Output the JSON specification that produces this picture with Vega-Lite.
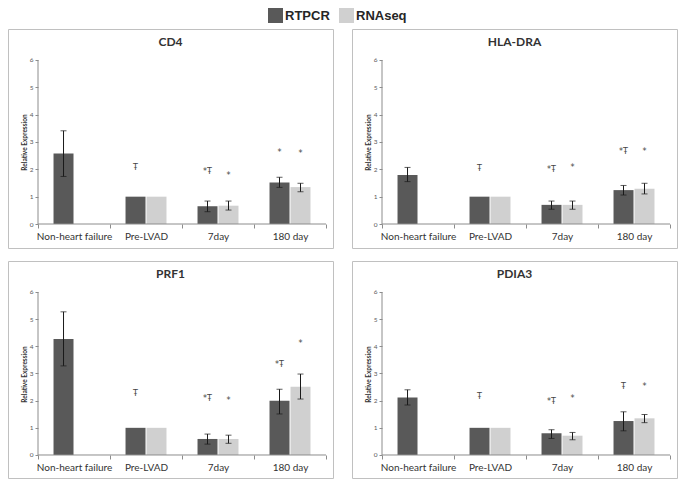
{
  "$schema": "https://vega.github.io/schema/vega-lite/v6.json",
  "padding": {"left": 7, "top": 8, "right": 4, "bottom": 4},
  "background": "white",
  "datasets": {
    "d": [
      {"gene": "CD4", "group": "Non-heart failure", "series": "RTPCR", "value": 2.58, "lo": 1.74, "hi": 3.41, "ann": null, "ann_y": null},
      {"gene": "CD4", "group": "Pre-LVAD", "series": "RTPCR", "value": 1.0, "lo": null, "hi": null, "ann": "Ŧ", "ann_y": 2.04},
      {"gene": "CD4", "group": "Pre-LVAD", "series": "RNAseq", "value": 1.0, "lo": null, "hi": null, "ann": null, "ann_y": null},
      {"gene": "CD4", "group": "7day", "series": "RTPCR", "value": 0.65, "lo": 0.45, "hi": 0.84, "ann": "*Ŧ", "ann_y": 1.9},
      {"gene": "CD4", "group": "7day", "series": "RNAseq", "value": 0.67, "lo": 0.51, "hi": 0.84, "ann": "*", "ann_y": 1.76},
      {"gene": "CD4", "group": "180 day", "series": "RTPCR", "value": 1.52, "lo": 1.34, "hi": 1.71, "ann": "*", "ann_y": 2.61},
      {"gene": "CD4", "group": "180 day", "series": "RNAseq", "value": 1.35, "lo": 1.18, "hi": 1.49, "ann": "*", "ann_y": 2.56},

      {"gene": "HLA-DRA", "group": "Non-heart failure", "series": "RTPCR", "value": 1.79, "lo": 1.55, "hi": 2.07, "ann": null, "ann_y": null},
      {"gene": "HLA-DRA", "group": "Pre-LVAD", "series": "RTPCR", "value": 1.0, "lo": null, "hi": null, "ann": "Ŧ", "ann_y": 2.02},
      {"gene": "HLA-DRA", "group": "Pre-LVAD", "series": "RNAseq", "value": 1.0, "lo": null, "hi": null, "ann": null, "ann_y": null},
      {"gene": "HLA-DRA", "group": "7day", "series": "RTPCR", "value": 0.70, "lo": 0.54, "hi": 0.84, "ann": "*Ŧ", "ann_y": 1.98},
      {"gene": "HLA-DRA", "group": "7day", "series": "RNAseq", "value": 0.70, "lo": 0.54, "hi": 0.84, "ann": "*", "ann_y": 2.04},
      {"gene": "HLA-DRA", "group": "180 day", "series": "RTPCR", "value": 1.24, "lo": 1.06, "hi": 1.41, "ann": "*Ŧ", "ann_y": 2.65},
      {"gene": "HLA-DRA", "group": "180 day", "series": "RNAseq", "value": 1.29, "lo": 1.10, "hi": 1.49, "ann": "*", "ann_y": 2.62},

      {"gene": "PRF1", "group": "Non-heart failure", "series": "RTPCR", "value": 4.27, "lo": 3.28, "hi": 5.27, "ann": null, "ann_y": null},
      {"gene": "PRF1", "group": "Pre-LVAD", "series": "RTPCR", "value": 1.0, "lo": null, "hi": null, "ann": "Ŧ", "ann_y": 2.23},
      {"gene": "PRF1", "group": "Pre-LVAD", "series": "RNAseq", "value": 1.0, "lo": null, "hi": null, "ann": null, "ann_y": null},
      {"gene": "PRF1", "group": "7day", "series": "RTPCR", "value": 0.59, "lo": 0.40, "hi": 0.77, "ann": "*Ŧ", "ann_y": 2.06},
      {"gene": "PRF1", "group": "7day", "series": "RNAseq", "value": 0.59, "lo": 0.43, "hi": 0.73, "ann": "*", "ann_y": 2.0},
      {"gene": "PRF1", "group": "180 day", "series": "RTPCR", "value": 2.0, "lo": 1.51, "hi": 2.42, "ann": "*Ŧ", "ann_y": 3.31},
      {"gene": "PRF1", "group": "180 day", "series": "RNAseq", "value": 2.51, "lo": 2.06, "hi": 2.98, "ann": "*", "ann_y": 4.07},

      {"gene": "PDIA3", "group": "Non-heart failure", "series": "RTPCR", "value": 2.12, "lo": 1.84, "hi": 2.4, "ann": null, "ann_y": null},
      {"gene": "PDIA3", "group": "Pre-LVAD", "series": "RTPCR", "value": 1.0, "lo": null, "hi": null, "ann": "Ŧ", "ann_y": 2.12},
      {"gene": "PDIA3", "group": "Pre-LVAD", "series": "RNAseq", "value": 1.0, "lo": null, "hi": null, "ann": null, "ann_y": null},
      {"gene": "PDIA3", "group": "7day", "series": "RTPCR", "value": 0.80, "lo": 0.61, "hi": 0.93, "ann": "*Ŧ", "ann_y": 1.96},
      {"gene": "PDIA3", "group": "7day", "series": "RNAseq", "value": 0.71, "lo": 0.56, "hi": 0.83, "ann": "*", "ann_y": 2.06},
      {"gene": "PDIA3", "group": "180 day", "series": "RTPCR", "value": 1.25, "lo": 0.89, "hi": 1.59, "ann": "Ŧ", "ann_y": 2.51},
      {"gene": "PDIA3", "group": "180 day", "series": "RNAseq", "value": 1.35, "lo": 1.19, "hi": 1.49, "ann": "*", "ann_y": 2.49}
    ]
  },
  "data": {"name": "d"},
  "config": {
    "view": {"stroke": "#c0c0c0", "strokeWidth": 1},
    "font": "Lato",
    "axis": {"grid": false},
    "axisY": {"offset": -30, "domain": false, "tickSize": 3, "tickColor": "#8c8c8c", "labelFontSize": 6.5, "labelColor": "#595959", "labelPadding": 2, "labelOverlap": false, "titleFontSize": 6.5, "titleFontWeight": "bold", "titleColor": "#333333", "titlePadding": 2, "titleY": 113},
    "axisX": {"domain": false, "tickBand": "extent", "tickSize": 4, "tickColor": "#8c8c8c", "labelAngle": 0, "labelFontSize": 10, "labelColor": "#333333", "labelPadding": 3, "labelFont": "Lato"},
    "title": {"fontSize": 12, "font": "Lato", "fontWeight": "bold", "color": "#333333", "anchor": "middle", "offset": -20}
  },
  "columns": 2,
  "spacing": {"row": 11, "column": 17},
  "resolve": {"scale": {"color": "shared", "x": "independent", "y": "independent", "xOffset": "independent"}, "legend": {"color": "shared"}},
  "concat": [
    {
      "width": 325, "height": 219,
      "title": {"text": "CD4"},
      "transform": [{"filter": "datum.gene === 'CD4'"}],
      "encoding": {"x": {"field": "group", "type": "nominal", "title": null, "scale": {"domain": ["Non-heart failure", "Pre-LVAD", "7day", "180 day"], "paddingInner": 0, "paddingOuter": 0.257, "align": 0.811}, "axis": {"offset": -24}}},
      "layer": [
        {"mark": {"type": "bar"}, "encoding": {
          "xOffset": {"field": "series", "type": "nominal", "scale": {"domain": ["RTPCR", "RNAseq"], "paddingInner": 0.048, "paddingOuter": 0.739}},
          "y": {"field": "value", "type": "quantitative", "title": "Relative Expression", "scale": {"domain": [-0.878, 7.134], "nice": false, "zero": false}, "axis": {"values": [0, 1, 2, 3, 4, 5, 6]}},
          "y2": {"datum": 0},
          "color": {"field": "series", "type": "nominal", "scale": {"domain": ["RTPCR", "RNAseq"], "range": ["#595959", "#d0d0d0"]}, "legend": {"orient": "none", "legendX": 260, "legendY": -21, "direction": "horizontal", "title": null, "symbolType": "square", "symbolSize": 225, "symbolStrokeWidth": 0, "symbolOpacity": 1, "labelFontSize": 13, "labelFontWeight": "bold", "labelFont": "Liberation Sans", "labelColor": "#262626", "labelOffset": 2, "columnPadding": 9, "padding": 0}}
        }},
        {"mark": {"type": "rule", "color": "#1a1a1a", "strokeWidth": 1}, "encoding": {
          "xOffset": {"field": "series", "type": "nominal", "scale": {"domain": ["RTPCR", "RNAseq"], "paddingInner": 0.048, "paddingOuter": 0.739}},
          "y": {"field": "lo", "type": "quantitative", "title": "Relative Expression", "axis": {"values": [0, 1, 2, 3, 4, 5, 6]}}, "y2": {"field": "hi"}}},
        {"mark": {"type": "tick", "color": "#1a1a1a", "thickness": 1, "size": 6, "orient": "horizontal"}, "encoding": {
          "xOffset": {"field": "series", "type": "nominal", "scale": {"domain": ["RTPCR", "RNAseq"], "paddingInner": 0.048, "paddingOuter": 0.739}},
          "y": {"field": "lo", "type": "quantitative", "title": "Relative Expression", "axis": {"values": [0, 1, 2, 3, 4, 5, 6]}}}},
        {"mark": {"type": "tick", "color": "#1a1a1a", "thickness": 1, "size": 6, "orient": "horizontal"}, "encoding": {
          "xOffset": {"field": "series", "type": "nominal", "scale": {"domain": ["RTPCR", "RNAseq"], "paddingInner": 0.048, "paddingOuter": 0.739}},
          "y": {"field": "hi", "type": "quantitative", "title": "Relative Expression", "axis": {"values": [0, 1, 2, 3, 4, 5, 6]}}}},
        {"mark": {"type": "text", "font": "DejaVu Sans", "fontSize": 8, "color": "#444444", "baseline": "middle"}, "encoding": {
          "xOffset": {"field": "series", "type": "nominal", "scale": {"domain": ["RTPCR", "RNAseq"], "paddingInner": 0.048, "paddingOuter": 0.739}},
          "y": {"field": "ann_y", "type": "quantitative", "title": "Relative Expression", "axis": {"values": [0, 1, 2, 3, 4, 5, 6]}}, "text": {"field": "ann"}}},
        {"data": {"values": [{}]}, "mark": {"type": "rule", "color": "#8c8c8c"}, "encoding": {"x": {"datum": "Non-heart failure", "bandPosition": 0, "title": null}, "y": {"datum": 0, "title": "Relative Expression", "axis": {"values": [0, 1, 2, 3, 4, 5, 6]}}, "y2": {"datum": 6}}},
        {"data": {"values": [{}]}, "mark": {"type": "rule", "color": "#8c8c8c"}, "encoding": {"x": {"datum": "Non-heart failure", "bandPosition": 0, "title": null}, "x2": {"datum": "180 day", "bandPosition": 1}, "y": {"datum": 0, "title": "Relative Expression", "axis": {"values": [0, 1, 2, 3, 4, 5, 6]}}}}
      ]
    },
    {
      "width": 325, "height": 219,
      "title": {"text": "HLA-DRA"},
      "transform": [{"filter": "datum.gene === 'HLA-DRA'"}],
      "encoding": {"x": {"field": "group", "type": "nominal", "title": null, "scale": {"domain": ["Non-heart failure", "Pre-LVAD", "7day", "180 day"], "paddingInner": 0, "paddingOuter": 0.257, "align": 0.811}, "axis": {"offset": -24}}},
      "layer": [
        {"mark": {"type": "bar"}, "encoding": {
          "xOffset": {"field": "series", "type": "nominal", "scale": {"domain": ["RTPCR", "RNAseq"], "paddingInner": 0.048, "paddingOuter": 0.739}},
          "y": {"field": "value", "type": "quantitative", "title": "Relative Expression", "scale": {"domain": [-0.878, 7.134], "nice": false, "zero": false}, "axis": {"values": [0, 1, 2, 3, 4, 5, 6]}},
          "y2": {"datum": 0},
          "color": {"field": "series", "type": "nominal", "scale": {"domain": ["RTPCR", "RNAseq"], "range": ["#595959", "#d0d0d0"]}, "legend": {"orient": "none", "legendX": 260, "legendY": -21, "direction": "horizontal", "title": null, "symbolType": "square", "symbolSize": 225, "symbolStrokeWidth": 0, "symbolOpacity": 1, "labelFontSize": 13, "labelFontWeight": "bold", "labelFont": "Liberation Sans", "labelColor": "#262626", "labelOffset": 2, "columnPadding": 9, "padding": 0}}
        }},
        {"mark": {"type": "rule", "color": "#1a1a1a", "strokeWidth": 1}, "encoding": {
          "xOffset": {"field": "series", "type": "nominal", "scale": {"domain": ["RTPCR", "RNAseq"], "paddingInner": 0.048, "paddingOuter": 0.739}},
          "y": {"field": "lo", "type": "quantitative", "title": "Relative Expression", "axis": {"values": [0, 1, 2, 3, 4, 5, 6]}}, "y2": {"field": "hi"}}},
        {"mark": {"type": "tick", "color": "#1a1a1a", "thickness": 1, "size": 6, "orient": "horizontal"}, "encoding": {
          "xOffset": {"field": "series", "type": "nominal", "scale": {"domain": ["RTPCR", "RNAseq"], "paddingInner": 0.048, "paddingOuter": 0.739}},
          "y": {"field": "lo", "type": "quantitative", "title": "Relative Expression", "axis": {"values": [0, 1, 2, 3, 4, 5, 6]}}}},
        {"mark": {"type": "tick", "color": "#1a1a1a", "thickness": 1, "size": 6, "orient": "horizontal"}, "encoding": {
          "xOffset": {"field": "series", "type": "nominal", "scale": {"domain": ["RTPCR", "RNAseq"], "paddingInner": 0.048, "paddingOuter": 0.739}},
          "y": {"field": "hi", "type": "quantitative", "title": "Relative Expression", "axis": {"values": [0, 1, 2, 3, 4, 5, 6]}}}},
        {"mark": {"type": "text", "font": "DejaVu Sans", "fontSize": 8, "color": "#444444", "baseline": "middle"}, "encoding": {
          "xOffset": {"field": "series", "type": "nominal", "scale": {"domain": ["RTPCR", "RNAseq"], "paddingInner": 0.048, "paddingOuter": 0.739}},
          "y": {"field": "ann_y", "type": "quantitative", "title": "Relative Expression", "axis": {"values": [0, 1, 2, 3, 4, 5, 6]}}, "text": {"field": "ann"}}},
        {"data": {"values": [{}]}, "mark": {"type": "rule", "color": "#8c8c8c"}, "encoding": {"x": {"datum": "Non-heart failure", "bandPosition": 0, "title": null}, "y": {"datum": 0, "title": "Relative Expression", "axis": {"values": [0, 1, 2, 3, 4, 5, 6]}}, "y2": {"datum": 6}}},
        {"data": {"values": [{}]}, "mark": {"type": "rule", "color": "#8c8c8c"}, "encoding": {"x": {"datum": "Non-heart failure", "bandPosition": 0, "title": null}, "x2": {"datum": "180 day", "bandPosition": 1}, "y": {"datum": 0, "title": "Relative Expression", "axis": {"values": [0, 1, 2, 3, 4, 5, 6]}}}}
      ]
    },
    {
      "width": 325, "height": 217,
      "title": {"text": "PRF1"},
      "transform": [{"filter": "datum.gene === 'PRF1'"}],
      "encoding": {"x": {"field": "group", "type": "nominal", "title": null, "scale": {"domain": ["Non-heart failure", "Pre-LVAD", "7day", "180 day"], "paddingInner": 0, "paddingOuter": 0.257, "align": 0.811}, "axis": {"offset": -23}}},
      "layer": [
        {"mark": {"type": "bar"}, "encoding": {
          "xOffset": {"field": "series", "type": "nominal", "scale": {"domain": ["RTPCR", "RNAseq"], "paddingInner": 0.048, "paddingOuter": 0.739}},
          "y": {"field": "value", "type": "quantitative", "title": "Relative Expression", "scale": {"domain": [-0.847, 7.141], "nice": false, "zero": false}, "axis": {"values": [0, 1, 2, 3, 4, 5, 6]}},
          "y2": {"datum": 0},
          "color": {"field": "series", "type": "nominal", "scale": {"domain": ["RTPCR", "RNAseq"], "range": ["#595959", "#d0d0d0"]}, "legend": {"orient": "none", "legendX": 260, "legendY": -21, "direction": "horizontal", "title": null, "symbolType": "square", "symbolSize": 225, "symbolStrokeWidth": 0, "symbolOpacity": 1, "labelFontSize": 13, "labelFontWeight": "bold", "labelFont": "Liberation Sans", "labelColor": "#262626", "labelOffset": 2, "columnPadding": 9, "padding": 0}}
        }},
        {"mark": {"type": "rule", "color": "#1a1a1a", "strokeWidth": 1}, "encoding": {
          "xOffset": {"field": "series", "type": "nominal", "scale": {"domain": ["RTPCR", "RNAseq"], "paddingInner": 0.048, "paddingOuter": 0.739}},
          "y": {"field": "lo", "type": "quantitative", "title": "Relative Expression", "axis": {"values": [0, 1, 2, 3, 4, 5, 6]}}, "y2": {"field": "hi"}}},
        {"mark": {"type": "tick", "color": "#1a1a1a", "thickness": 1, "size": 6, "orient": "horizontal"}, "encoding": {
          "xOffset": {"field": "series", "type": "nominal", "scale": {"domain": ["RTPCR", "RNAseq"], "paddingInner": 0.048, "paddingOuter": 0.739}},
          "y": {"field": "lo", "type": "quantitative", "title": "Relative Expression", "axis": {"values": [0, 1, 2, 3, 4, 5, 6]}}}},
        {"mark": {"type": "tick", "color": "#1a1a1a", "thickness": 1, "size": 6, "orient": "horizontal"}, "encoding": {
          "xOffset": {"field": "series", "type": "nominal", "scale": {"domain": ["RTPCR", "RNAseq"], "paddingInner": 0.048, "paddingOuter": 0.739}},
          "y": {"field": "hi", "type": "quantitative", "title": "Relative Expression", "axis": {"values": [0, 1, 2, 3, 4, 5, 6]}}}},
        {"mark": {"type": "text", "font": "DejaVu Sans", "fontSize": 8, "color": "#444444", "baseline": "middle"}, "encoding": {
          "xOffset": {"field": "series", "type": "nominal", "scale": {"domain": ["RTPCR", "RNAseq"], "paddingInner": 0.048, "paddingOuter": 0.739}},
          "y": {"field": "ann_y", "type": "quantitative", "title": "Relative Expression", "axis": {"values": [0, 1, 2, 3, 4, 5, 6]}}, "text": {"field": "ann"}}},
        {"data": {"values": [{}]}, "mark": {"type": "rule", "color": "#8c8c8c"}, "encoding": {"x": {"datum": "Non-heart failure", "bandPosition": 0, "title": null}, "y": {"datum": 0, "title": "Relative Expression", "axis": {"values": [0, 1, 2, 3, 4, 5, 6]}}, "y2": {"datum": 6}}},
        {"data": {"values": [{}]}, "mark": {"type": "rule", "color": "#8c8c8c"}, "encoding": {"x": {"datum": "Non-heart failure", "bandPosition": 0, "title": null}, "x2": {"datum": "180 day", "bandPosition": 1}, "y": {"datum": 0, "title": "Relative Expression", "axis": {"values": [0, 1, 2, 3, 4, 5, 6]}}}}
      ]
    },
    {
      "width": 325, "height": 217,
      "title": {"text": "PDIA3"},
      "transform": [{"filter": "datum.gene === 'PDIA3'"}],
      "encoding": {"x": {"field": "group", "type": "nominal", "title": null, "scale": {"domain": ["Non-heart failure", "Pre-LVAD", "7day", "180 day"], "paddingInner": 0, "paddingOuter": 0.257, "align": 0.811}, "axis": {"offset": -23}}},
      "layer": [
        {"mark": {"type": "bar"}, "encoding": {
          "xOffset": {"field": "series", "type": "nominal", "scale": {"domain": ["RTPCR", "RNAseq"], "paddingInner": 0.048, "paddingOuter": 0.739}},
          "y": {"field": "value", "type": "quantitative", "title": "Relative Expression", "scale": {"domain": [-0.847, 7.141], "nice": false, "zero": false}, "axis": {"values": [0, 1, 2, 3, 4, 5, 6]}},
          "y2": {"datum": 0},
          "color": {"field": "series", "type": "nominal", "scale": {"domain": ["RTPCR", "RNAseq"], "range": ["#595959", "#d0d0d0"]}, "legend": {"orient": "none", "legendX": 260, "legendY": -21, "direction": "horizontal", "title": null, "symbolType": "square", "symbolSize": 225, "symbolStrokeWidth": 0, "symbolOpacity": 1, "labelFontSize": 13, "labelFontWeight": "bold", "labelFont": "Liberation Sans", "labelColor": "#262626", "labelOffset": 2, "columnPadding": 9, "padding": 0}}
        }},
        {"mark": {"type": "rule", "color": "#1a1a1a", "strokeWidth": 1}, "encoding": {
          "xOffset": {"field": "series", "type": "nominal", "scale": {"domain": ["RTPCR", "RNAseq"], "paddingInner": 0.048, "paddingOuter": 0.739}},
          "y": {"field": "lo", "type": "quantitative", "title": "Relative Expression", "axis": {"values": [0, 1, 2, 3, 4, 5, 6]}}, "y2": {"field": "hi"}}},
        {"mark": {"type": "tick", "color": "#1a1a1a", "thickness": 1, "size": 6, "orient": "horizontal"}, "encoding": {
          "xOffset": {"field": "series", "type": "nominal", "scale": {"domain": ["RTPCR", "RNAseq"], "paddingInner": 0.048, "paddingOuter": 0.739}},
          "y": {"field": "lo", "type": "quantitative", "title": "Relative Expression", "axis": {"values": [0, 1, 2, 3, 4, 5, 6]}}}},
        {"mark": {"type": "tick", "color": "#1a1a1a", "thickness": 1, "size": 6, "orient": "horizontal"}, "encoding": {
          "xOffset": {"field": "series", "type": "nominal", "scale": {"domain": ["RTPCR", "RNAseq"], "paddingInner": 0.048, "paddingOuter": 0.739}},
          "y": {"field": "hi", "type": "quantitative", "title": "Relative Expression", "axis": {"values": [0, 1, 2, 3, 4, 5, 6]}}}},
        {"mark": {"type": "text", "font": "DejaVu Sans", "fontSize": 8, "color": "#444444", "baseline": "middle"}, "encoding": {
          "xOffset": {"field": "series", "type": "nominal", "scale": {"domain": ["RTPCR", "RNAseq"], "paddingInner": 0.048, "paddingOuter": 0.739}},
          "y": {"field": "ann_y", "type": "quantitative", "title": "Relative Expression", "axis": {"values": [0, 1, 2, 3, 4, 5, 6]}}, "text": {"field": "ann"}}},
        {"data": {"values": [{}]}, "mark": {"type": "rule", "color": "#8c8c8c"}, "encoding": {"x": {"datum": "Non-heart failure", "bandPosition": 0, "title": null}, "y": {"datum": 0, "title": "Relative Expression", "axis": {"values": [0, 1, 2, 3, 4, 5, 6]}}, "y2": {"datum": 6}}},
        {"data": {"values": [{}]}, "mark": {"type": "rule", "color": "#8c8c8c"}, "encoding": {"x": {"datum": "Non-heart failure", "bandPosition": 0, "title": null}, "x2": {"datum": "180 day", "bandPosition": 1}, "y": {"datum": 0, "title": "Relative Expression", "axis": {"values": [0, 1, 2, 3, 4, 5, 6]}}}}
      ]
    }
  ]
}
